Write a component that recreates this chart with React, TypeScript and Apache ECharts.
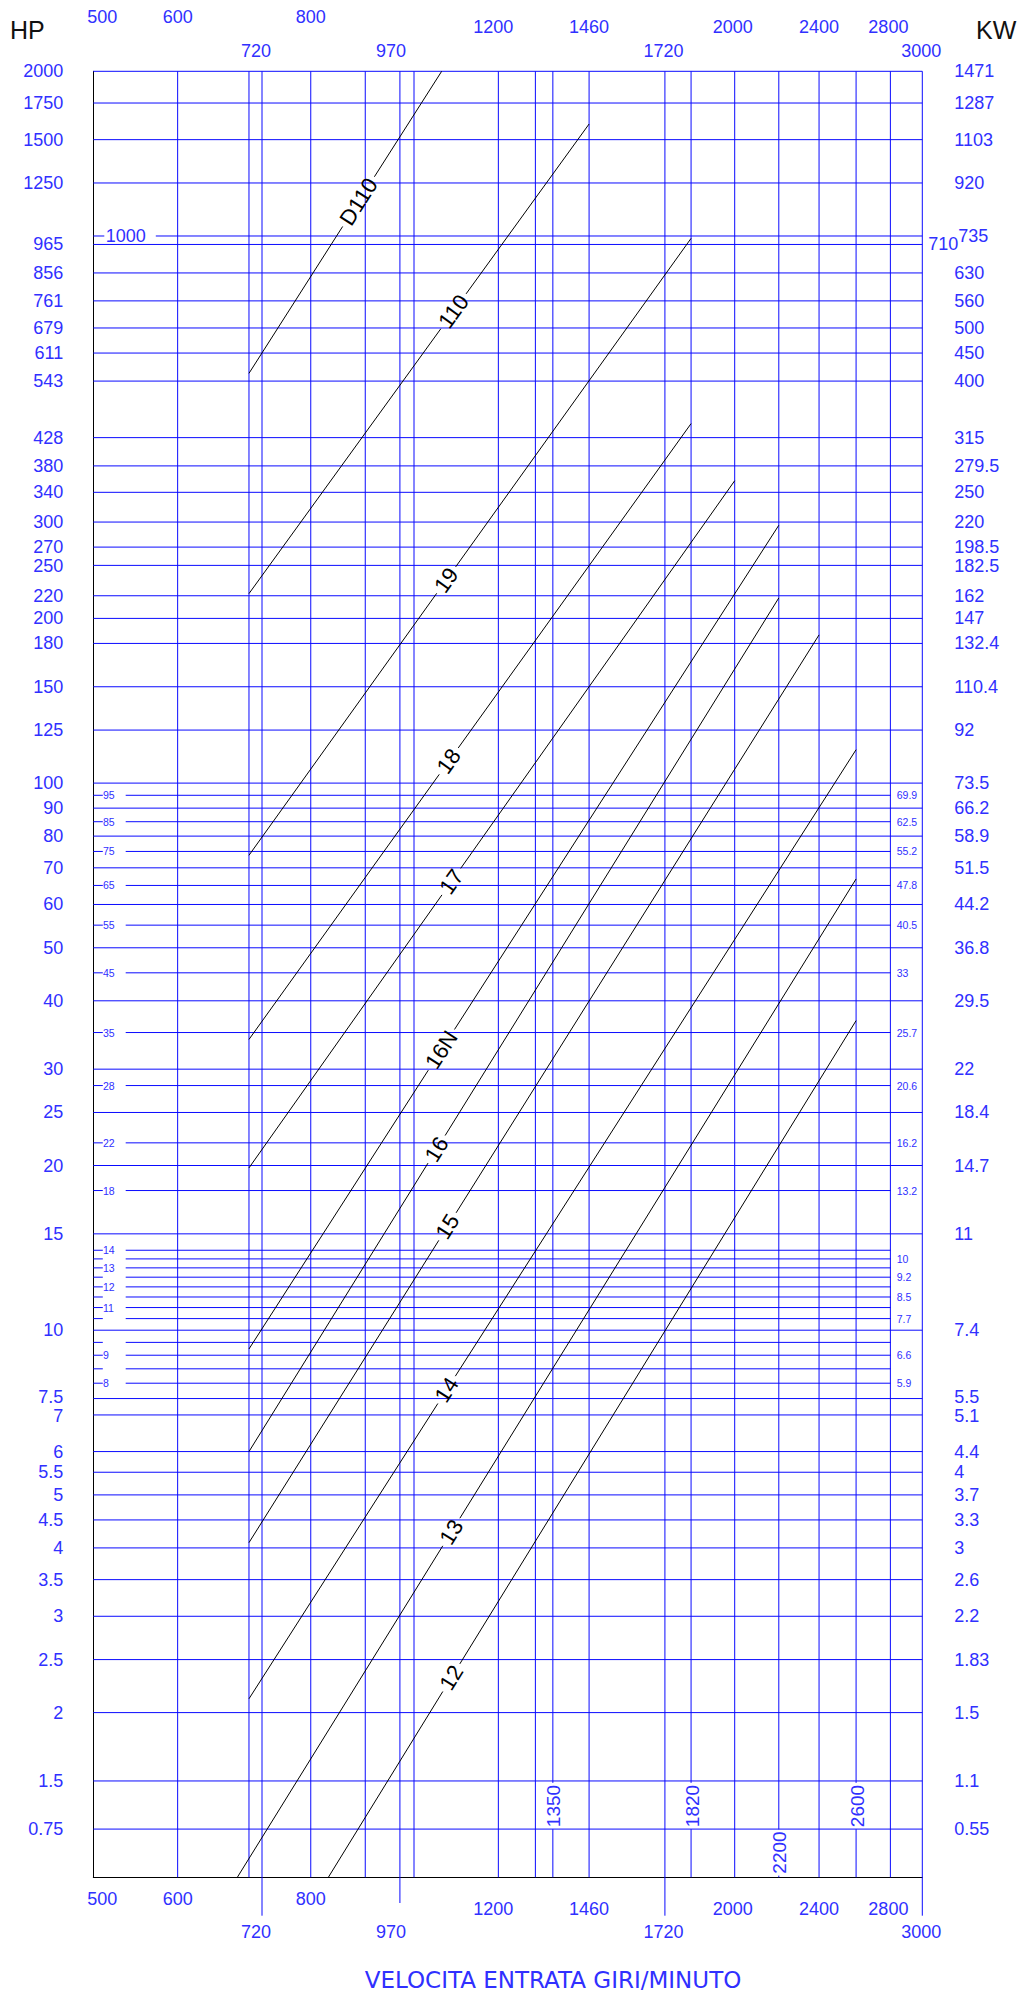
import React, { useEffect, useRef } from 'react';
import * as echarts from 'echarts';

// ---------------- DATA ----------------
const RPM_RANGE = [500, 3000];
const HP_RANGE = [1, 2000];

// main horizontal grid lines (position on HP log scale), left HP label, right KW label
const HP_GRID = [2000, 1750, 1500, 1250, 1000, 965, 856, 761, 679, 611, 543, 428, 380, 340, 300, 270, 250, 220, 200, 180, 150, 125, 100, 90, 80, 70, 60, 50, 40, 30, 25, 20, 15, 10, 7.5, 7, 6, 5.5, 5, 4.5, 4, 3.5, 3, 2.5, 2, 1.5, 1.225];
const HP_LABELS = ['2000', '1750', '1500', '1250', '1000', '965', '856', '761', '679', '611', '543', '428', '380', '340', '300', '270', '250', '220', '200', '180', '150', '125', '100', '90', '80', '70', '60', '50', '40', '30', '25', '20', '15', '10', '7.5', '7', '6', '5.5', '5', '4.5', '4', '3.5', '3', '2.5', '2', '1.5', '0.75'];
const KW_LABELS = ['1471', '1287', '1103', '920', '735', '710', '630', '560', '500', '450', '400', '315', '279.5', '250', '220', '198.5', '182.5', '162', '147', '132.4', '110.4', '92', '73.5', '66.2', '58.9', '51.5', '44.2', '36.8', '29.5', '22', '18.4', '14.7', '11', '7.4', '5.5', '5.1', '4.4', '4', '3.7', '3.3', '3', '2.6', '2.2', '1.83', '1.5', '1.1', '0.55'];

// minor (short) horizontal lines
const HP_MINOR = [95, 85, 75, 65, 55, 45, 35, 28, 22, 18, 14, 13.5, 13, 12.5, 12, 11.5, 11, 10.5, 9.5, 9, 8.5, 8];
const HP_MINOR_LABELS = ['95', '85', '75', '65', '55', '45', '35', '28', '22', '18', '14', '', '13', '', '12', '', '11', '', '', '9', '', '8'];
const KW_MINOR_LABELS = ['69.9', '62.5', '55.2', '47.8', '40.5', '33', '25.7', '20.6', '16.2', '13.2', '', '10', '', '9.2', '', '8.5', '', '7.7', '', '6.6', '', '5.9'];

// vertical grid lines (rpm)
const RPM_GRID = [600, 700, 720, 800, 900, 970, 1000, 1200, 1300, 1350, 1460, 1720, 1820, 2000, 2200, 2400, 2600, 2800, 3000];
// rpm tick labels in three rows
const RPM_ROW_A = [500, 600, 800];
const RPM_ROW_B = [1200, 1460, 2000, 2400, 2800];
const RPM_ROW_C = [720, 970, 1720, 3000];
// rotated rpm labels inside the plot
const INNER_RPM = [1350, 1820, 2200, 2600];
const INNER_HP = [1.35, 1.35, 1.11, 1.35];

// power curves (straight lines in log-log)
const CURVE_NAMES = ['D110', '110', '19', '18', '17', '16N', '16', '15', '14', '13', '12'];
const CURVE_START_RPM = [700, 700, 700, 700, 700, 700, 700, 700, 700, 682.6, 831];
const CURVE_START_HP = [561, 222, 73.8, 34, 19.8, 9.24, 6.0, 4.09, 2.12, 1, 1];
const CURVE_END_RPM = [1061.6, 1460, 1820, 1820, 2000, 2200, 2200, 2400, 2600, 2600, 2600];
const CURVE_END_HP = [2000, 1602, 990, 454, 357, 296, 218, 186.6, 115.1, 66.8, 36.8];
const CURVE_LABEL_RPM = [887, 1089, 1072, 1078, 1084, 1061, 1050, 1075, 1073, 1084, 1084];

// ---------------- STYLE ----------------
const FONT = '"Liberation Sans", Arial, sans-serif';
const BLUE = '#0a0aff';
const TEXT_BLUE = '#3030ff';
const AXIS_FONT = 18;

let measureCtx: CanvasRenderingContext2D | null = null;
function textWidth(t: string, size: number) {
  if (!measureCtx) measureCtx = document.createElement('canvas').getContext('2d');
  if (!measureCtx) return t.length * size * 0.56;
  measureCtx.font = `${size}px ${FONT}`;
  return measureCtx.measureText(t).width;
}

function ln(x1: number, y1: number, x2: number, y2: number, stroke = BLUE) {
  return { type: 'line', shape: { x1, y1, x2, y2 }, style: { stroke, lineWidth: 1 } };
}
function tx(text: string, x: number, y: number, align: string, size: number, fill = TEXT_BLUE, rotation = 0) {
  return {
    type: 'text',
    x,
    y,
    rotation,
    style: { text, fill, fontSize: size, fontFamily: FONT, align, verticalAlign: 'middle' },
  };
}

// small vertical nudges for crowded label pairs (style only)
const LEFT_NUDGE: Record<string, number> = { '7.5': -1.5, '7': 1.5, '5.5': -0.5, '5': 0.5, '270': -0.5, '250': 0.5 };
const RIGHT_NUDGE: Record<string, number> = { '5.5': -1.5, '5.1': 1.5, '198.5': -0.5, '182.5': 0.5 };

export default function App() {
  const ref = useRef<HTMLDivElement>(null);

  useEffect(() => {
    if (!ref.current) return;
    const chart = echarts.init(ref.current, null, { renderer: 'svg' });

    const hLines = {
      type: 'custom',
      silent: true,
      encode: { x: 0, y: 1 },
      data: HP_GRID.map((v) => [RPM_RANGE[0], v]),
      renderItem: (params: any, api: any) => {
        const i = params.dataIndex;
        const cs = params.coordSys;
        const x0 = cs.x;
        const x1 = cs.x + cs.width;
        const y = api.coord([RPM_RANGE[0], api.value(1)])[1];
        const hp = HP_LABELS[i];
        const kw = KW_LABELS[i];
        const children: any[] = [];
        if (hp === '1000') {
          children.push(ln(x0, y, x0 + 11, y));
          children.push(tx(hp, x0 + 12.5, y, 'left', 18));
          children.push(ln(x0 + 62.5, y, x1, y));
        } else {
          children.push(ln(x0, y, x1, y));
          children.push(tx(hp, x0 - 30, y + (LEFT_NUDGE[hp] || 0), 'right', AXIS_FONT));
        }
        const kwX = hp === '965' ? x1 + 6 : hp === '1000' ? x1 + 36 : x1 + 32;
        children.push(tx(kw, kwX, y + (RIGHT_NUDGE[kw] || 0), 'left', AXIS_FONT));
        return { type: 'group', children };
      },
    };

    const minorLines = {
      type: 'custom',
      silent: true,
      encode: { x: 0, y: 1 },
      data: HP_MINOR.map((v) => [RPM_RANGE[0], v]),
      renderItem: (params: any, api: any) => {
        const i = params.dataIndex;
        const cs = params.coordSys;
        const x0 = cs.x;
        const x1 = cs.x + cs.width;
        const y = api.coord([RPM_RANGE[0], api.value(1)])[1];
        const children: any[] = [ln(x0, y, x0 + 9.5, y), ln(x0 + 32.4, y, x1 - 31.6, y)];
        if (HP_MINOR_LABELS[i]) children.push(tx(HP_MINOR_LABELS[i], x0 + 9.7, y, 'left', 10.5));
        if (KW_MINOR_LABELS[i]) children.push(tx(KW_MINOR_LABELS[i], x1 - 25.6, y, 'left', 10.5));
        return { type: 'group', children };
      },
    };

    const vLines = {
      type: 'custom',
      silent: true,
      encode: { x: 0, y: 1 },
      data: RPM_GRID.map((v) => [v, HP_RANGE[0]]),
      renderItem: (params: any, api: any) => {
        const cs = params.coordSys;
        const rpm = api.value(0);
        const x = api.coord([rpm, HP_RANGE[0]])[0];
        const yTop = cs.y;
        const yBot = cs.y + cs.height;
        let yEnd = yBot;
        if (RPM_ROW_C.indexOf(rpm) >= 0) yEnd = rpm === 970 ? yBot + 25.7 : yBot + 38.4;
        const j = INNER_RPM.indexOf(rpm);
        const children: any[] = [];
        if (j >= 0) {
          const label = String(rpm);
          const cy = api.coord([rpm, INNER_HP[j]])[1];
          const half = textWidth(label, 19) / 2 + 2;
          children.push(ln(x, yTop, x, cy - half));
          children.push(ln(x, cy + half, x, yEnd));
          children.push(tx(label, x + 1, cy, 'center', 19, TEXT_BLUE, Math.PI / 2));
        } else {
          children.push(ln(x, yTop, x, yEnd));
        }
        return { type: 'group', children };
      },
    };

    const rowData = [
      ...RPM_ROW_A.map((v) => [v, HP_RANGE[0], 0]),
      ...RPM_ROW_B.map((v) => [v, HP_RANGE[0], 1]),
      ...RPM_ROW_C.map((v) => [v, HP_RANGE[0], 2]),
    ];
    const offs: Record<number, number> = { 500: 9, 720: -6, 970: -9, 1200: -5, 1720: -1.5, 2000: -2, 2800: -2, 3000: -1 };
    const rpmLabels = {
      type: 'custom',
      silent: true,
      encode: { x: 0, y: 1 },
      data: rowData,
      renderItem: (params: any, api: any) => {
        const cs = params.coordSys;
        const rpm = api.value(0);
        const row = api.value(2);
        const x = api.coord([rpm, HP_RANGE[0]])[0] + (offs[rpm] || 0);
        const yTop = cs.y;
        const yBot = cs.y + cs.height;
        const topY = [yTop - 54.6, yTop - 44, yTop - 20.6][row];
        const botY = [yBot + 21.7, yBot + 31.7, yBot + 54.7][row];
        return {
          type: 'group',
          children: [tx(String(rpm), x, topY, 'center', 18), tx(String(rpm), x, botY, 'center', 18)],
        };
      },
    };

    const LABEL_SIZE = 22;
    const curves = {
      type: 'custom',
      silent: true,
      encode: { x: [0, 2], y: [1, 3] },
      data: CURVE_NAMES.map((_, i) => [CURVE_START_RPM[i], CURVE_START_HP[i], CURVE_END_RPM[i], CURVE_END_HP[i], CURVE_LABEL_RPM[i]]),
      renderItem: (params: any, api: any) => {
        const name = CURVE_NAMES[params.dataIndex];
        const p0 = api.coord([api.value(0), api.value(1)]);
        const p1 = api.coord([api.value(2), api.value(3)]);
        const lx = api.coord([api.value(4), HP_RANGE[0]])[0];
        const dx = p1[0] - p0[0];
        const dy = p1[1] - p0[1];
        const len = Math.hypot(dx, dy);
        const ux = dx / len;
        const uy = dy / len;
        const t = (lx - p0[0]) / dx;
        const cx = p0[0] + t * dx;
        const cy = p0[1] + t * dy;
        const half = textWidth(name, LABEL_SIZE) / 2 + 4;
        const rot = Math.atan2(-dy, dx);
        return {
          type: 'group',
          children: [
            ln(p0[0], p0[1], cx - ux * half, cy - uy * half, '#000'),
            ln(cx + ux * half, cy + uy * half, p1[0], p1[1], '#000'),
            tx(name, cx, cy, 'center', LABEL_SIZE, '#000', rot),
          ],
        };
      },
    };

    const option = {
      animation: false,
      backgroundColor: '#ffffff',
      grid: { left: 93.3, right: 96.7, top: 71.3, bottom: 115.7 },
      xAxis: {
        type: 'log',
        logBase: 10,
        min: RPM_RANGE[0],
        max: RPM_RANGE[1],
        axisLine: { show: true, lineStyle: { color: '#000', width: 1 } },
        axisTick: { show: false },
        axisLabel: { show: false },
        splitLine: { show: false },
      },
      yAxis: {
        type: 'log',
        logBase: 10,
        min: HP_RANGE[0],
        max: HP_RANGE[1],
        axisLine: { show: true, lineStyle: { color: '#000', width: 1 } },
        axisTick: { show: false },
        axisLabel: { show: false },
        splitLine: { show: false },
      },
      graphic: [
        { type: 'text', left: 10, top: 17, style: { text: 'HP', fill: '#111', fontSize: 25, fontFamily: FONT } },
        { type: 'text', left: 976, top: 17, style: { text: 'KW', fill: '#111', fontSize: 25, fontFamily: FONT } },
        {
          type: 'text',
          x: 553,
          y: 1980,
          style: {
            text: 'VELOCITA ENTRATA GIRI/MINUTO',
            fill: TEXT_BLUE,
            fontSize: 23,
            fontFamily: '"DejaVu Sans", sans-serif',
            align: 'center',
            verticalAlign: 'middle',
          },
        },
      ],
      series: [hLines, minorLines, vLines, rpmLabels, curves],
    };

    chart.setOption(option as any);
    return () => chart.dispose();
  }, []);

  return (
    <div
      ref={ref}
      style={{ position: 'absolute', left: 0, top: 0, width: 1019, height: 1993, background: '#fff' }}
    />
  );
}
